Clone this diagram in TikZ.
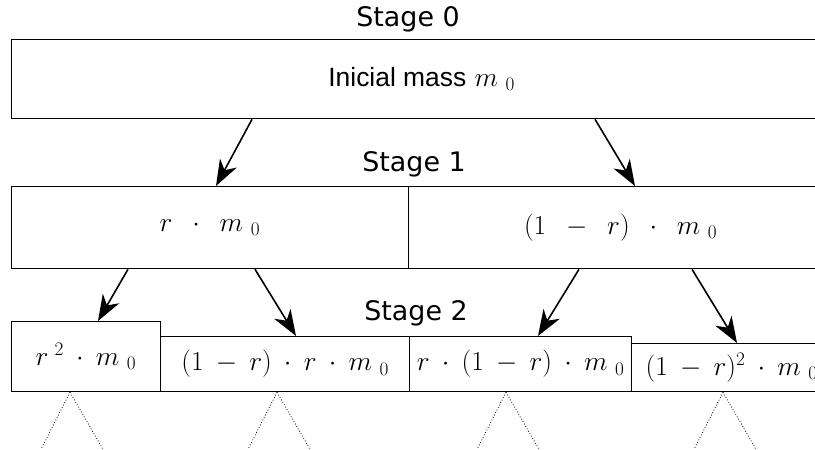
\documentclass[tikz,border=0pt]{standalone}
\usepackage{fix-cm}
\usepackage{amsmath}
\usepackage{fontspec}
\newfontfamily\stagefont{DejaVu Sans}
\newfontfamily\boxfont{Liberation Sans}
\usetikzlibrary{arrows.meta,positioning,calc}
\medmuskip=8mu\relax
\tikzset{
  cell/.style       = {draw, line width=1.3pt, inner sep=0pt, anchor=north west,
                       font=\fontsize{27.5}{30}\selectfont},
  widecell/.style   = {cell, execute at begin node={\medmuskip=13mu\relax}},
  stagelabel/.style = {font=\stagefont\fontsize{27}{30}\selectfont, inner sep=0pt},
  split/.style      = {-{Stealth[length=26bp,width=19bp,inset=8bp]}, line width=1.6pt},
  trail/.style      = {dotted, line width=0.8pt},
}
\newcommand{\mnull}{m\mkern5mu{}_{0}}

\begin{document}
\begin{tikzpicture}[x=1bp,y=-1bp]
  \useasboundingbox (0,0) rectangle (815,450);
  \clip (0,0) rectangle (815,450);

  % stage labels
  \node[stagelabel] (lab0) at (408,19) {Stage 0};
  \node[stagelabel] (lab1) at (414,164) {Stage 1};
  \node[stagelabel] (lab2) at (416,313) {Stage 2};

  % stage 0
  \node[cell, minimum width=821bp, minimum height=79bp] (s0) at (10.5,39)
       {{\boxfont\fontsize{26.5}{30}\selectfont Inicial mass} $\mnull$};

  % stage 1
  \node[widecell, minimum width=397.5bp, minimum height=82bp] (s1a) at (10.5,186)
       {$r\cdot\mnull$};
  \node[widecell, minimum width=424bp, minimum height=82bp] (s1b) at (408,186)
       {$(1-r)\cdot\mnull$};

  % stage 2
  \node[cell, minimum width=149.5bp, minimum height=70bp] (s2a) at (10.5,321)
       {$r\mkern4mu{}^{2}\cdot\mnull$};
  \node[cell, minimum width=249bp, minimum height=55bp] (s2b) at (160,336)
       {$(1-r)\cdot r\cdot\mnull$};
  \node[cell, minimum width=222bp, minimum height=55bp] (s2c) at (409,336)
       {$r\cdot(1-r)\cdot\mnull$};
  \node[cell, minimum width=200bp, minimum height=48bp] (s2d) at (631,343)
       {$(1-r)^{2}\cdot\mnull$};

  % splits
  \draw[split] ([xshift=241.5bp]s0.south west) -- ([xshift=205.5bp]s1a.north west);
  \draw[split] ([xshift=584.5bp]s0.south west) -- ([xshift=227bp]s1b.north west);
  \draw[split] ([xshift=117.5bp]s1a.south west) -- ([xshift=87.5bp]s2a.north west);
  \draw[split] ([xshift=244.5bp]s1a.south west) -- ([xshift=136bp]s2b.north west);
  \draw[split] ([xshift=171bp]s1b.south west) -- ([xshift=129bp]s2c.north west);
  \draw[split] ([xshift=284bp]s1b.south west) -- ([xshift=106bp]s2d.north west);

  % further stages
  \foreach \b/\dx in {s2a/59.5, s2b/117, s2c/97, s2d/92} {
    \coordinate (\b-l) at ($(\b.south west)+(\dx-29,57)$);
    \coordinate (\b-r) at ($(\b.south west)+(\dx+33,57)$);
    \draw[trail] ([xshift=\dx bp]\b.south west) -- (\b-l);
    \draw[trail] ([xshift=\dx bp]\b.south west) -- (\b-r);
  }
\end{tikzpicture}
\end{document}
